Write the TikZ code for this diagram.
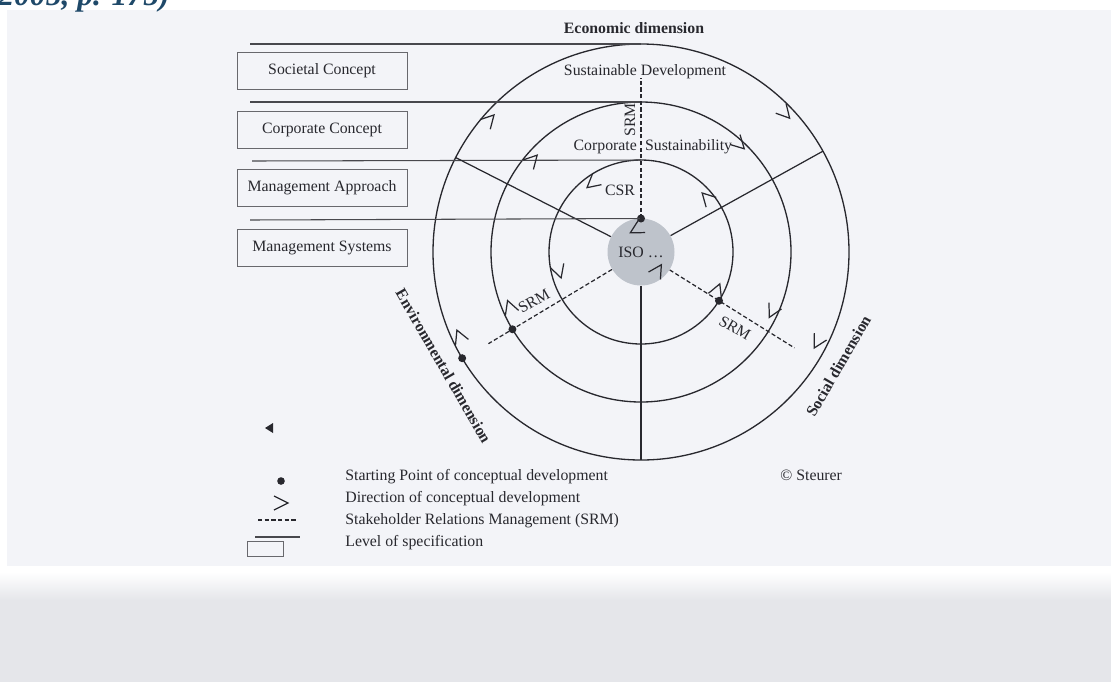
\documentclass[tikz,border=0pt]{standalone}
\usepackage{fontspec}
\setmainfont{Liberation Serif}
\usetikzlibrary{calc}
\definecolor{scanbg}{RGB}{243,244,248}
\definecolor{isogray}{RGB}{190,195,203}
\definecolor{ink}{RGB}{40,40,46}
\definecolor{capblue}{RGB}{31,73,105}
\definecolor{bandgray}{RGB}{229,230,234}
\tikzset{
  ring/.style={ink, line width=0.75pt},
  spoke/.style={ink, line width=0.7pt},
  srm/.style={ink, line width=0.7pt, dash pattern=on 2.4pt off 1.4pt},
  level/.style={ink!85, line width=0.6pt},
  levelbox/.style={draw=ink!70, line width=0.5pt, inner sep=0pt,
    minimum width=3.4cm, minimum height=0.74cm},
  devmark/.style={ink, line width=0.7pt},
  startdot/.style={fill=ink},
  txt/.style={font=\fontsize{9}{11}\selectfont, text=ink},
  dimlabel/.style={font=\fontsize{9}{11}\selectfont\bfseries, text=ink}
}

\begin{document}
\begin{tikzpicture}[x=0.02cm, y=0.02cm]
\clip (0,0) rectangle (1111,-691);

% scanned page and lower band
\fill[scanbg] (7,-10) rectangle (1111,-566);
\shade[top color=white, bottom color=bandgray] (0,-572) rectangle (1111,-600);
\fill[bandgray] (0,-600) rectangle (1111,-682);
\node[anchor=base west, font=\fontsize{18}{20}\selectfont\bfseries\itshape,
  text=capblue, inner sep=0pt] (cap) at (-2,-5) {2005, p. 175)};

% levels of specification
\node[levelbox, txt] (soc) at (322,-71) {Societal Concept};
\node[levelbox, txt] (corp) at (322,-129.5) {Corporate Concept};
\node[levelbox, txt] (mgmt) at (322,-187.5) {Management Approach};
\node[levelbox, txt] (sys) at (322,-248) {Management Systems};

\begin{scope}[shift={(641,-252)}]
\coordinate (c) at (0,0);
\draw[ring] (c) circle [radius=208];
\draw[ring] (c) circle [radius=150];
\draw[ring] (c) circle [radius=92];
\node[circle, fill=isogray, inner sep=0pt, minimum size=1.34cm, txt] (iso) at (c) {ISO \ldots};

\coordinate (outtop) at (90:208);
\coordinate (midtop) at (90:150);
\coordinate (csrtop) at (90:92);
\coordinate (ul) at (153:208);
\coordinate (ur) at (29:208);
\coordinate (bot) at (270:208);
\coordinate (srmtop) at (90:174);
\coordinate (srmleft) at (211:178);
\coordinate (srmright) at (328:181);

\draw[level] (-391,208) -- (outtop);
\draw[level] (-391,150) -- (midtop);
\draw[level] (-389,91) -- (csrtop);

\draw[spoke] (iso) -- (ul);
\draw[spoke] (iso) -- (ur);
\draw[spoke] (iso) -- (bot);

\fill[startdot] (90:33.5) circle [radius=4] coordinate (dtop);
\fill[startdot] (211:150) circle [radius=4] coordinate (dleft);
\fill[startdot] (328:92) circle [radius=4] coordinate (dright);
\fill[startdot] (210.7:208) circle [radius=4] coordinate (dout);

\draw[level] (-391,32) -- (dtop);
\draw[srm] (dtop) -- (srmtop);
\draw[srm] (iso) -- (srmleft);
\draw[srm] (iso) -- (srmright);

\foreach \a/\r/\d in {137/201/270, 42/200/270, -29/198/270, 203/200/270,
                      137/142/270, 45/146/270, -27/144/270, 200/142/270,
                      130/84/90, 44/85/90, 198/84/90, -22/85/90,
                      119/22/90, -32/24/90}
  \draw[devmark, shift={(\a:\r)}, rotate=\a+\d] (-13,7) -- (0,0) -- (-13,-7);

\node[dimlabel] (eco) at (-7,224) {Economic dimension};
\node[dimlabel, rotate=-60] (env) at (210:228) {Environmental dimension};
\node[dimlabel, rotate=60] (socdim) at (330:228) {Social dimension};

\node[txt] (sd) at (4,180) {Sustainable Development};
\node[txt, rotate=90] (srmv) at (-11,132) {SRM};
\node[txt, anchor=east, inner sep=1pt] (cs1) at (-2,105) {Corporate};
\node[txt, anchor=west, inner sep=1pt] (cs2) at (2,105) {Sustainability};
\node[txt] (csr) at (-21,62) {CSR};
\node[txt, rotate=30] (srml) at (-107,-49) {SRM};
\node[txt, rotate=-30] (srmr) at (94,-76) {SRM};
\end{scope}

% legend
\fill[ink] (265,-428) -- (273,-423) -- (273,-433) -- cycle;
\fill[startdot] (281,-481) circle [radius=3.8];
\draw[devmark] (274,-496) -- (288,-503) -- (274,-510);
\draw[srm] (258,-520) -- (297,-520);
\draw[level] (255,-537) -- (300,-537);
\draw[draw=ink!70, line width=0.5pt] (247,-541) rectangle (283,-556);
\node[txt, anchor=west, inner sep=0pt] (leg1) at (345,-477) {Starting Point of conceptual development};
\node[txt, anchor=west, inner sep=0pt] (leg2) at (345,-499) {Direction of conceptual development};
\node[txt, anchor=west, inner sep=0pt] (leg3) at (345,-521) {Stakeholder Relations Management (SRM)};
\node[txt, anchor=west, inner sep=0pt] (leg4) at (345,-543) {Level of specification};
\node[txt, anchor=west, inner sep=0pt] (copy) at (780,-475) {\textcopyright{} Steurer};

\end{tikzpicture}
\end{document}
